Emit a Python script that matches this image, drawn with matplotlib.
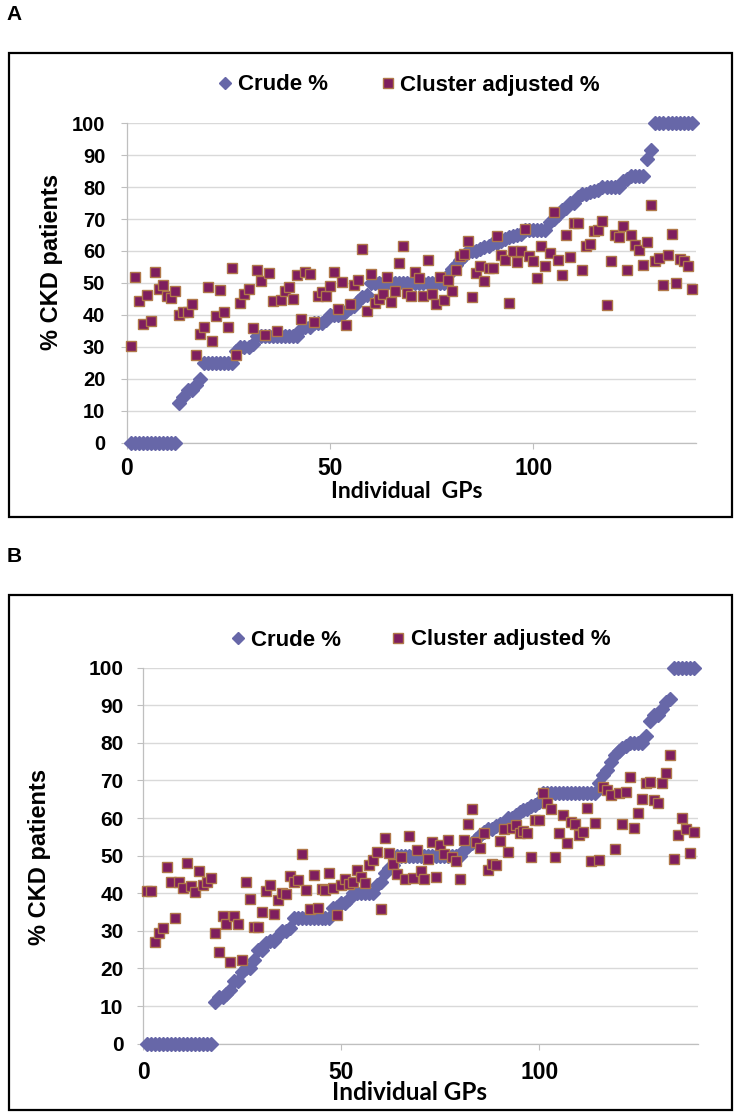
import matplotlib
matplotlib.use("Agg")
import matplotlib.pyplot as plt
from matplotlib.patches import Rectangle
from matplotlib.lines import Line2D

W, H = 741, 1120

# panel A: GPs sorted by crude %
gps_a = list(range(1, 140))
crude_a = [
    0, 0, 0, 0, 0, 0, 0, 0, 0, 0, 0, 0,
    12.5, 14.3, 16.7, 16.7, 18.2, 20,
    25, 25, 25, 25, 25, 25, 25, 25,
    28.6, 30, 30, 30, 30.8,
    33.3, 33.3, 33.3, 33.3, 33.3, 33.3, 33.3, 33.3, 33.3, 33.3, 33.3,
    35.7, 36.4, 36.4, 37.5, 37.5, 37.5, 38.5,
    40, 40, 40, 40,
    41.2, 42.1, 42.9, 44.4, 45.5, 46.2,
    50, 50, 50, 50, 50, 50, 50, 50, 50, 50, 50, 50, 50, 50, 50, 50, 50, 50, 50,
    52.6, 54.5, 55.6, 57.1, 58.3,
    60, 60, 60, 60.6, 61.1, 61.5, 62.5, 62.5,
    63.2, 63.6, 64.3, 64.7, 65, 65.4,
    66.7, 66.7, 66.7, 66.7, 66.7, 66.7,
    69.2, 70, 71.4, 72.7, 73.3, 75, 75,
    76.9, 77.8, 77.8, 78.3, 78.6, 79.2,
    80, 80, 80, 80, 80,
    81.8, 82.4, 83.3, 83.3, 83.3, 83.3,
    88.9, 91.7,
    100, 100, 100, 100, 100, 100, 100, 100, 100, 100,
]
cluster_a = [
    30.4, 52, 44.3, 37.2, 46.4, 38.2, 53.4, 48, 49.3, 46,
    45.3, 47.5, 40, 41, 41, 43.5, 27.6, 34, 36.3, 48.6,
    32, 39.8, 47.7, 40.8, 36.3, 54.7, 27.5, 43.8, 46.6, 48.1,
    36, 54.2, 50.5, 33.9, 53.1, 44.5, 35.1, 44.8, 47.6, 48.6,
    45, 52.4, 38.9, 53.4, 52.8, 37.8, 45.8, 47.2, 45.8, 49.2,
    53.4, 42, 50.2, 36.8, 43.4, 49.3, 50.8, 60.7, 41.4, 52.8,
    43.8, 45, 46.6, 51.8, 44, 47.6, 56.3, 61.5, 46.9, 45.8,
    53.3, 51.6, 45.8, 57.3, 46.6, 43.5, 52, 44.8, 51, 47.4,
    54.2, 58.3, 59.2, 63, 45.6, 53, 55.2, 50.5, 54.7, 54.7,
    64.6, 58.9, 57.3, 43.8, 59.9, 56.6, 59.9, 66.9, 58.3, 57,
    51.6, 61.5, 55.2, 59.4, 72.1, 57.3, 52.4, 65.1, 58.1, 68.8,
    68.8, 54.2, 61.5, 62.3, 66.1, 66.5, 69.3, 43.2, 57, 65.1,
    64.4, 67.7, 54, 65.1, 62, 60.4, 55.5, 62.7, 74.4, 56.8,
    57.8, 49.3, 58.6, 65.3, 50, 57.5, 56.8, 55.2, 48.2,
]

# panel B
gps_b = list(range(1, 140))
crude_b = [
    0, 0, 0, 0, 0, 0, 0, 0, 0, 0, 0, 0, 0, 0, 0, 0, 0,
    11.1, 12.5, 12.5, 13.3, 14.3,
    16.7, 16.7, 19, 20, 20, 22.2, 25, 25, 26.7, 27.3, 27.3, 28.6, 30, 30, 30.8,
    33.3, 33.3, 33.3, 33.3, 33.3, 33.3, 33.3, 33.3, 33.3, 33.3,
    36, 36.4, 37.5, 37.5, 38.5,
    40, 40, 40, 40, 40, 40,
    42.3, 42.9, 45.5, 46.7, 47.4,
    50, 50, 50, 50, 50, 50, 50, 50, 50, 50, 50, 50, 50, 50, 50, 50, 50,
    51.5, 52.6, 53.3, 54.5, 55.6, 56.3, 57.1, 57.1, 57.9, 58.3,
    58.8, 60, 60, 60.9, 61.5, 62.1, 62.5, 63.2, 63.6, 64.3,
    66.7, 66.7, 66.7, 66.7, 66.7, 66.7, 66.7, 66.7, 66.7, 66.7, 66.7, 66.7, 66.7, 66.7,
    69.2, 71.4, 72.7, 75, 76.9, 77.8, 78.6, 79.2, 80, 80, 80, 80,
    81.8, 85.7, 87.5, 87.5, 88.9, 90.9, 91.7,
    100, 100, 100, 100, 100, 100,
]
cluster_b = [
    40.7, 40.7, 27.1, 29.3, 30.7, 47.1, 42.9, 33.3, 42.9, 41.3,
    48, 41.8, 40.2, 46, 42.2, 43.1, 44.1, 29.5, 24.3, 34,
    31.8, 21.8, 34, 31.8, 22.3, 43.1, 38.5, 31.1, 31.1, 35.1,
    40.7, 42.2, 34.4, 38.2, 40, 39.7, 44.6, 43.1, 43.5, 50.4,
    40.9, 35.7, 44.9, 36, 41, 40.9, 45.3, 41.5, 34.2, 42.2,
    43.7, 42.5, 43.1, 46.2, 44.2, 42.6, 47.5, 48.8, 51.1, 35.8,
    54.6, 50.6, 47.7, 45.1, 49.6, 43.7, 55.1, 44, 51.5, 46,
    43.7, 49, 53.7, 44.4, 52.8, 50.5, 54.2, 49.7, 48.7, 43.8,
    54.2, 58.4, 62.3, 53.5, 52, 56.1, 46.2, 47.8, 47.5, 54,
    57, 51.1, 57.3, 58.2, 55.9, 56.5, 55.9, 49.7, 59.5, 59.5,
    66.6, 64.1, 62.3, 49.6, 55.9, 60.8, 53.3, 59, 58.4, 55.5,
    56.4, 62.6, 48.7, 58.6, 48.8, 68.2, 67.5, 66.1, 51.7, 66.6,
    58.4, 66.8, 71, 57.3, 61.4, 65.2, 69.4, 69.7, 64.8, 63.9,
    69.4, 72.1, 76.8, 49, 55.5, 60.1, 57, 50.8, 56.2,
]

crude_color = "#6767A8"
cluster_face = "#7E1E5E"
cluster_edge = "#B07848"
grid_color = "#D9D9D9"
axis_color = "#BFBFBF"

plt.rcParams["font.family"] = ["Liberation Sans", "DejaVu Sans"]
plt.rcParams["font.weight"] = "bold"

fig = plt.figure(figsize=(W / 100, H / 100), dpi=100)


def rect(l, t, r, b):
    return [l / W, 1 - b / H, (r - l) / W, (b - t) / H]


def panel(ax_box, frame, x, crude, cluster, ytick_size, xtick_size, ypad, xpad):
    ax = fig.add_axes(rect(*ax_box))
    ax.plot(x, crude, linestyle="none", marker="D", ms=7, color=crude_color,
            mec=crude_color, clip_on=False, zorder=3)
    ax.plot(x, cluster, linestyle="none", marker="s", ms=7.8, color=cluster_face,
            mec=cluster_edge, mew=1.0, clip_on=False, zorder=4)
    ax.set_xlim(0, 140)
    ax.set_ylim(0, 100)
    ax.set_yticks(range(0, 101, 10))
    ax.set_xticks([0, 50, 100])
    ax.grid(axis="y", color=grid_color, lw=1.0)
    ax.set_axisbelow(True)
    for s in ["top", "right"]:
        ax.spines[s].set_visible(False)
    for s in ["left", "bottom"]:
        ax.spines[s].set_color(axis_color)
        ax.spines[s].set_linewidth(0.9)
    ax.tick_params(axis="y", length=4.3, color=axis_color, labelsize=ytick_size, pad=ypad)
    ax.tick_params(axis="x", length=4.3, color=axis_color, labelsize=xtick_size, pad=xpad)
    fig.add_artist(Rectangle((frame[0] / W, 1 - frame[3] / H),
                             (frame[2] - frame[0]) / W, (frame[3] - frame[1]) / H,
                             transform=fig.transFigure, fill=False, lw=1.6,
                             edgecolor="black"))
    return ax


ax_a = panel((126.5, 123, 696, 443), (9, 53, 732, 517), gps_a, crude_a, cluster_a,
             14.5, 16.5, 11, 6)
ax_b = panel((143.3, 667.7, 697.7, 1043.6), (9, 595, 732, 1110), gps_b, crude_b,
             cluster_b, 15, 16.5, 10, 8)

fig.text(14 / W, 1 - 15 / H, "A", fontsize=15, ha="center", va="center")
fig.text(14 / W, 1 - 557 / H, "B", fontsize=15, ha="center", va="center")

fig.text(52 / W, 1 - 262 / H, "% CKD patients", fontsize=17, rotation=90,
         ha="center", va="center")
fig.text(40 / W, 1 - 857 / H, "% CKD patients", fontsize=17, rotation=90,
         ha="center", va="center")
fig.text(407 / W, 1 - 492 / H, "Individual  GPs", fontsize=16.5, ha="center",
         va="center", family=["Lato", "DejaVu Sans"])
fig.text(410 / W, 1 - 1093 / H, "Individual GPs", fontsize=17.5, ha="center",
         va="center", family=["Lato", "DejaVu Sans"])

handles = [
    Line2D([], [], linestyle="none", marker="D", ms=6, color=crude_color),
    Line2D([], [], linestyle="none", marker="s", ms=7, color=cluster_face,
           mec=cluster_edge),
]
labels = ["Crude %", "Cluster adjusted %"]
for cx, cy, fs, cs in [(409, 85, 16, 2.4), (421, 640, 16, 2.3)]:
    fig.legend(handles, labels, loc="center", bbox_to_anchor=(cx / W, 1 - cy / H),
               ncol=2, frameon=False, fontsize=fs, handlelength=0.6,
               handletextpad=0.25, columnspacing=cs)

fig.savefig("out.png", dpi=100)
